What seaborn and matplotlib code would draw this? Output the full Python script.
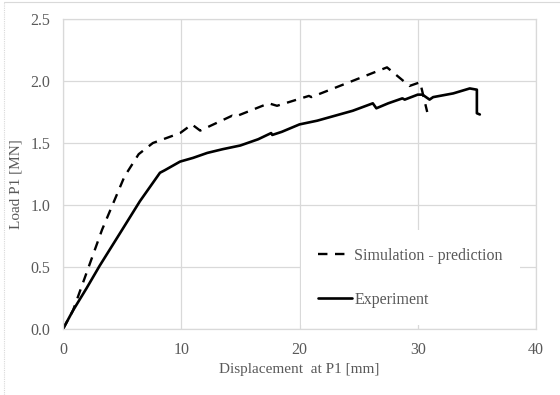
import matplotlib
matplotlib.use("Agg")
import matplotlib.pyplot as plt
from matplotlib.lines import Line2D
import seaborn as sns
import pandas as pd

# ---- data ----
sim_x = [0, 0.85, 3.3, 5.2, 6.4, 7.6, 9.9, 10.9, 11.6, 14.3, 14.5, 17.4, 18.1,
         20.8, 21.0, 27.4, 29.3, 30.2, 30.8]
sim_y = [0, 0.15, 0.80, 1.23, 1.41, 1.50, 1.58, 1.65, 1.60, 1.72, 1.71, 1.82, 1.80,
         1.88, 1.87, 2.11, 1.96, 1.99, 1.75]

exp_x = [0, 0.85, 2.0, 3.1, 5.0, 6.5, 8.2, 8.6, 9.9, 11.0, 12.2, 13.5, 15.0, 16.5,
         17.6, 17.7, 18.5, 20.0, 21.5, 23.0, 24.5, 26.2, 26.5, 27.5, 28.7, 28.9,
         30.0, 30.4, 31.0, 31.3, 33.0, 34.4, 35.0, 35.0, 35.25]
exp_y = [0, 0.15, 0.33, 0.51, 0.80, 1.03, 1.26, 1.28, 1.35, 1.38, 1.42, 1.45, 1.48, 1.53,
         1.58, 1.565, 1.59, 1.65, 1.68, 1.72, 1.76, 1.82, 1.78, 1.82, 1.86, 1.85,
         1.89, 1.89, 1.85, 1.87, 1.90, 1.94, 1.93, 1.74, 1.73]

x_ticks = [0, 10, 20, 30, 40]
y_ticks = [0.0, 0.5, 1.0, 1.5, 2.0, 2.5]
x_label = "Displacement  at P1 [mm]"
y_label = "Load P1 [MN]"
sim_label = "Simulation - prediction"
exp_label = "Experiment"

sim_df = pd.DataFrame({"x": sim_x, "y": sim_y})
exp_df = pd.DataFrame({"x": exp_x, "y": exp_y})

sns.set_theme(style="white")
plt.rcParams["font.family"] = ["Liberation Serif", "DejaVu Serif"]
txt = "#595959"
grid = "#d9d9d9"

fig = plt.figure(figsize=(5.6, 3.95), dpi=100)
ax = fig.add_axes([63 / 560, 1 - 329 / 395, 473 / 560, 310 / 395])

sns.lineplot(data=sim_df, x="x", y="y", ax=ax, sort=False, estimator=None,
             color="black", linewidth=1.7, linestyle=(0, (4, 3.2)), label=sim_label)
sns.lineplot(data=exp_df, x="x", y="y", ax=ax, sort=False, estimator=None,
             color="black", linewidth=1.9, label=exp_label)

ax.set_xlim(0, 40)
ax.set_ylim(0, 2.5)
ax.set_xticks(x_ticks)
ax.set_yticks(y_ticks)
ax.set_xticklabels([str(v) for v in x_ticks])
ax.set_yticklabels([f"{v:.1f}" for v in y_ticks])
ax.grid(True, color=grid, linewidth=0.9)
ax.set_axisbelow(True)
for s in ax.spines.values():
    s.set_color(grid)
    s.set_linewidth(0.9)
ax.tick_params(axis="both", length=0, labelsize=11.5, colors=txt)
ax.tick_params(axis="x", pad=9)
ax.tick_params(axis="y", pad=9)
ax.set_xlabel(x_label, fontsize=11, color=txt, labelpad=4)
ax.set_ylabel(y_label, fontsize=11, color=txt, labelpad=5)
ax.yaxis.set_label_coords(-0.086, 0.467)

leg = ax.legend(loc="upper left", bbox_to_anchor=(0.486, 0.345), fontsize=11.5,
                frameon=True, facecolor="white", edgecolor="none", framealpha=1,
                fancybox=False, handlelength=2.1, handletextpad=0.15,
                labelspacing=1.75, borderpad=1.1)
for t in leg.get_texts():
    t.set_color(txt)

# outer chart frame (left and top edges visible)
fig.add_artist(Line2D([4 / 560, 4 / 560], [0, 1 - 2 / 395], color=grid, linewidth=0.8,
                      linestyle=(0, (1, 1)), transform=fig.transFigure))
fig.add_artist(Line2D([4 / 560, 1], [1 - 2 / 395, 1 - 2 / 395], color=grid, linewidth=0.8,
                      transform=fig.transFigure))

fig.savefig("out.png", dpi=100)
